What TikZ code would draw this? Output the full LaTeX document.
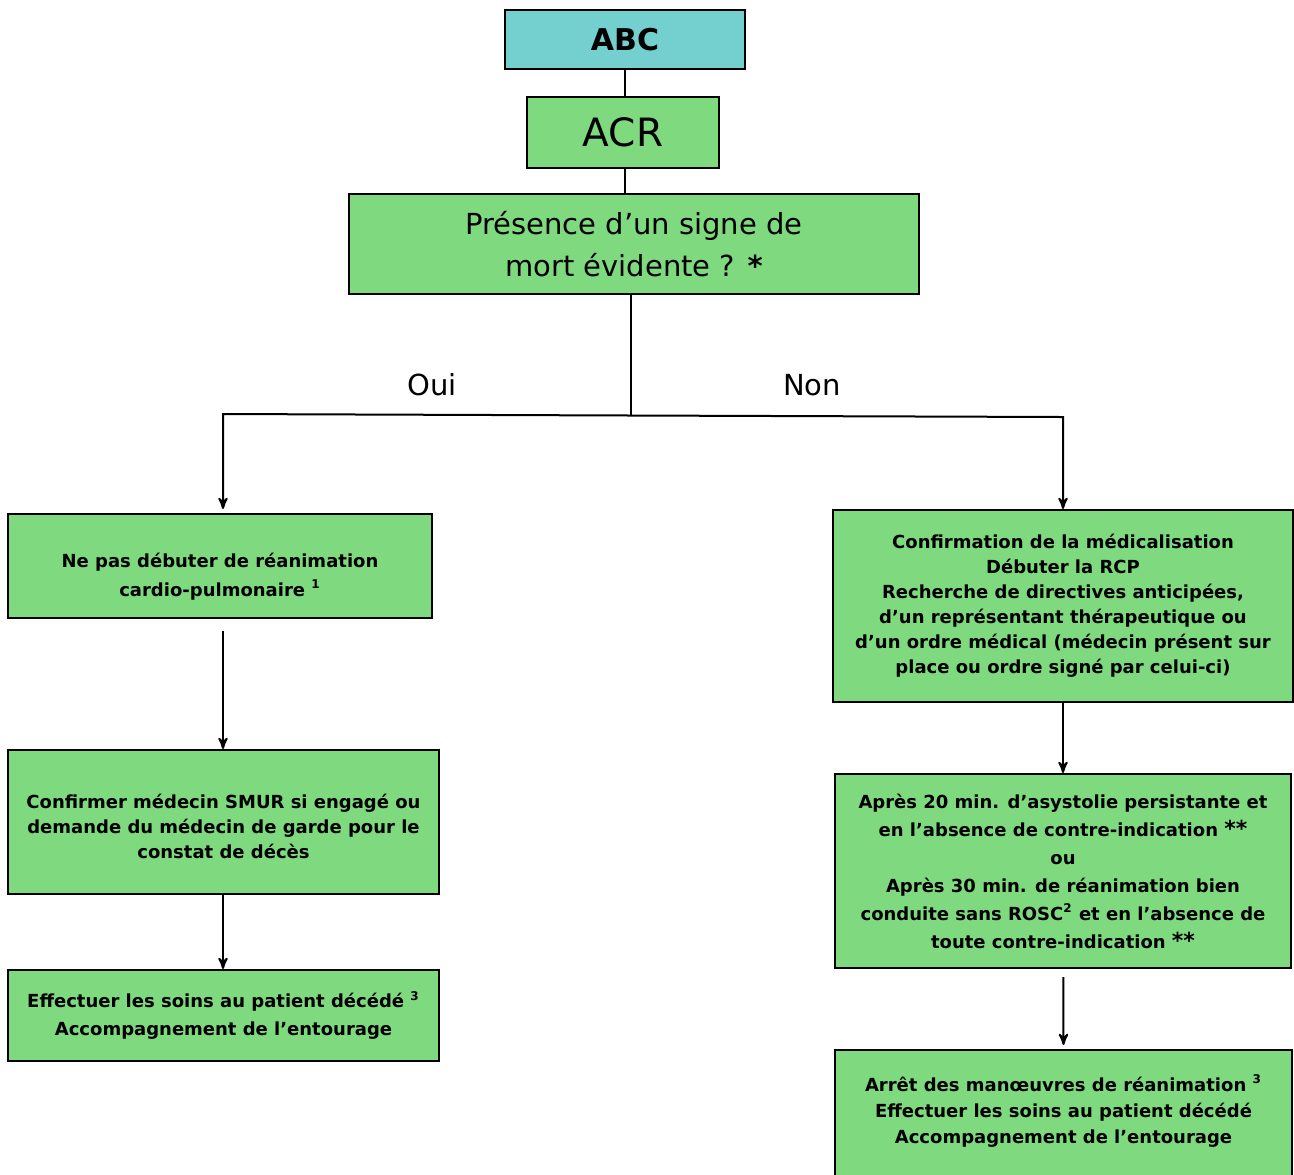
\documentclass[tikz,border=0pt]{standalone}
\usepackage{fontspec}
\setmainfont{DejaVu Sans}
\usetikzlibrary{arrows}
\definecolor{boxgreen}{HTML}{7FD97F}
\definecolor{boxteal}{HTML}{74CFCF}

\begin{document}
\begin{tikzpicture}[x=0.5pt,y=-0.5pt]
    \tikzstyle{e} = [draw, -stealth', line width=1pt]
    \tikzstyle{b} = [draw, fill=boxgreen, line width=1pt, align=center, inner sep=0pt, font=\bfseries\fontsize{9}{12.5}\selectfont]
    \useasboundingbox (0,0) rectangle (1294,1174);
    \node[b, fill=boxteal, minimum width=120pt, minimum height=29.5pt, font=\bfseries\fontsize{15}{18}\selectfont] (ABC) at (625,39.5) {ABC};
    \node[b, minimum width=96pt, minimum height=35.5pt, font=\fontsize{19.5}{24}\selectfont] (ACR) at (623,132.5) {ACR};
    \node[b, minimum width=285pt, minimum height=50pt, font=\fontsize{14.5}{21}\selectfont] (P) at (634,244) {Présence d’un signe de\\mort évidente ? \textbf{*}};
    \node[b, minimum width=212pt, minimum height=52pt, font=\bfseries\fontsize{9}{14.5}\selectfont] (N1) at (220,566) {\rule{0pt}{18pt}Ne pas débuter de réanimation\\cardio-pulmonaire \textsuperscript{1}};
    \node[b, minimum width=215.5pt, minimum height=72pt] (N2) at (223.5,822) {\rule{0pt}{12pt}Confirmer médecin SMUR si engagé ou\\demande du médecin de garde pour le\\constat de décès};
    \node[b, minimum width=215.5pt, minimum height=45.5pt, font=\bfseries\fontsize{9}{14}\selectfont] (N3) at (223.5,1015.5) {Effectuer les soins au patient décédé \textsuperscript{3}\\Accompagnement de l’entourage};
    \node[b, minimum width=230pt, minimum height=96pt] (Y1) at (1063,606) {Confirmation de la médicalisation\\Débuter la RCP\\Recherche de directives anticipées,\\d’un représentant thérapeutique ou\\d’un ordre médical (médecin présent sur\\place ou ordre signé par celui-ci)};
    \node[b, minimum width=228pt, minimum height=97pt, font=\bfseries\fontsize{9}{14}\selectfont] (Y2) at (1063,871) {Après 20 min. d’asystolie persistante et\\en l’absence de contre-indication {\fontsize{11}{11}\selectfont**}\\ou\\Après 30 min. de réanimation bien\\conduite sans ROSC\textsuperscript{2} et en l’absence de\\toute contre-indication {\fontsize{11}{11}\selectfont**}};
    \node[b, minimum width=228.5pt, minimum height=65pt, font=\bfseries\fontsize{9}{13}\selectfont] (Y3) at (1063.5,1115) {Arrêt des manœuvres de réanimation \textsuperscript{3}\\Effectuer les soins au patient décédé\\Accompagnement de l’entourage\rule[-6pt]{0pt}{0pt}};
    \node[font=\fontsize{14.5}{17}\selectfont] (oui) at (432,385) {Oui};
    \node[font=\fontsize{14.5}{17}\selectfont] (non) at (812,385) {Non};
    \coordinate (split) at (631,415.5);
    \coordinate (left) at (223,414);
    \coordinate (right) at (1063,417);
    \draw[line width=1pt] (ABC.south) -- (ABC.south |- ACR.north);
    \draw[line width=1pt] (ACR.south -| ABC) -- (P.north -| ABC);
    \draw[line width=1pt] (P.south -| split) -- (split);
    \draw[e] (split) -- (left) -- ([yshift=2pt]left |- N1.north);
    \draw[e] (split) -- (right) -- (Y1.north);
    \draw[e, shorten <=6pt] (left |- N1.south) -- (left |- N2.north);
    \draw[e] (left |- N2.south) -- (left |- N3.north);
    \draw[e] (Y1) -- (Y2);
    \draw[e, shorten <=4pt] (Y2) -- ([yshift=2pt]Y3.north);
\end{tikzpicture}
\end{document}
